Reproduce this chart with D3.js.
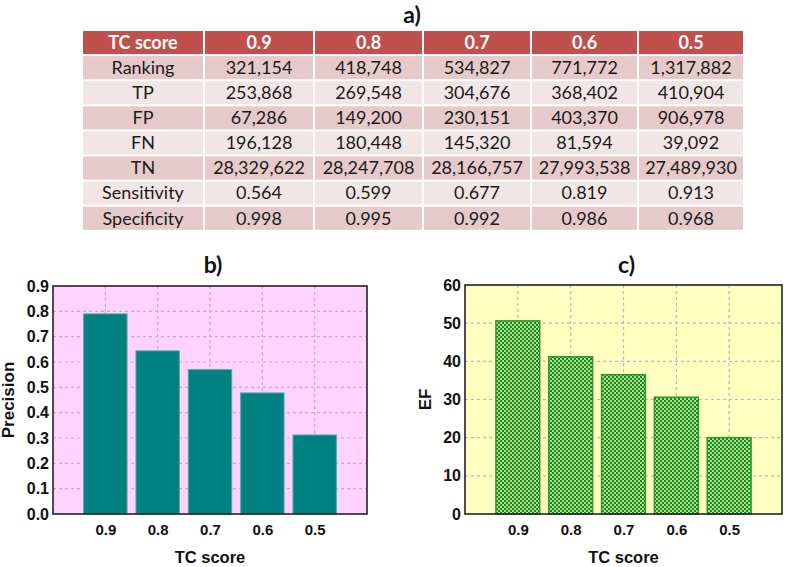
<!DOCTYPE html>
<html><head><meta charset="utf-8">
<script src="https://cdn.jsdelivr.net/npm/d3@7"></script>
<style>body{margin:0;background:#fff}svg{display:block}</style>
</head><body>
<svg id="c" width="787" height="567"></svg>
<script>
const tcScores = ["0.9","0.8","0.7","0.6","0.5"];
const rowLabels = ["Ranking","TP","FP","FN","TN","Sensitivity","Specificity"];
const ranking = ["321,154","418,748","534,827","771,772","1,317,882"];
const tp = ["253,868","269,548","304,676","368,402","410,904"];
const fp = ["67,286","149,200","230,151","403,370","906,978"];
const fn = ["196,128","180,448","145,320","81,594","39,092"];
const tn = ["28,329,622","28,247,708","28,166,757","27,993,538","27,489,930"];
const sensitivity = ["0.564","0.599","0.677","0.819","0.913"];
const specificity = ["0.998","0.995","0.992","0.986","0.968"];
const precision = [0.790, 0.644, 0.570, 0.478, 0.312];
const ef = [50.6, 41.2, 36.5, 30.6, 20.0];
const precisionTicks = [0,0.1,0.2,0.3,0.4,0.5,0.6,0.7,0.8,0.9];
const efTicks = [0,10,20,30,40,50,60];

const svg = d3.select("#c");
const defs = svg.append("defs");
const pat = defs.append("pattern").attr("id","chk").attr("patternUnits","userSpaceOnUse")
  .attr("width",4).attr("height",4);
pat.append("rect").attr("width",4).attr("height",4).attr("fill","#b4de94");
pat.append("rect").attr("width",2).attr("height",2).attr("fill","#168a16");
pat.append("rect").attr("x",2).attr("y",2).attr("width",2).attr("height",2).attr("fill","#168a16");

// ---------- Table ----------
const tableRows = [ranking,tp,fp,fn,tn,sensitivity,specificity];
const colEdges = [83,205,315,424,532,639,745];
const rowTop = 31, rowH = 25.1;
const tf = "Lato, 'Open Sans', sans-serif";
const af = "'Liberation Sans', Arial, sans-serif";
svg.append("text").attr("x",412).attr("y",23).attr("text-anchor","middle")
  .attr("font-family",tf).attr("font-weight","bold").attr("font-size",23).attr("fill","#111").text("a)");
const headers = ["TC score"].concat(tcScores);
headers.forEach((h,i)=>{
  svg.append("rect").attr("x",colEdges[i]).attr("y",rowTop).attr("width",colEdges[i+1]-colEdges[i]-2)
    .attr("height",rowH-2).attr("fill","#c0504d");
  svg.append("text").attr("x",(colEdges[i]+colEdges[i+1]-2)/2).attr("y",rowTop+rowH/2-1)
    .attr("dy","0.35em").attr("text-anchor","middle").attr("font-family",tf).attr("font-weight","bold")
    .attr("font-size",18).attr("fill","#fff").text(h);
});
tableRows.forEach((vals,r)=>{
  const y = rowTop+rowH*(r+1);
  const fill = r%2===0 ? "#e6caca" : "#f2e5e5";
  [rowLabels[r]].concat(vals).forEach((v,i)=>{
    svg.append("rect").attr("x",colEdges[i]).attr("y",y).attr("width",colEdges[i+1]-colEdges[i]-2)
      .attr("height",rowH-2).attr("fill",fill);
    svg.append("text").attr("x",(colEdges[i]+colEdges[i+1]-2)/2).attr("y",y+rowH/2-1)
      .attr("dy","0.35em").attr("text-anchor","middle").attr("font-family",tf)
      .attr("font-size",18).attr("fill","#1a1a1a").text(v);
  });
});

// ---------- Bar charts ----------
function barChart(o){
  const g = svg.append("g");
  const x = d3.scaleLinear().domain([0,6]).range([o.left,o.right]);
  const y = d3.scaleLinear().domain([0,o.max]).range([o.bottom,o.top]);
  g.append("rect").attr("x",o.left).attr("y",o.top).attr("width",o.right-o.left)
    .attr("height",o.bottom-o.top).attr("fill",o.bg);
  g.selectAll(".hg").data(o.ticks.slice(1,-1)).enter().append("line")
    .attr("x1",o.left).attr("x2",o.right).attr("y1",d=>y(d)).attr("y2",d=>y(d))
    .attr("stroke","#b8b8b8").attr("stroke-width",1.2).attr("stroke-dasharray","3,3");
  g.selectAll(".vg").data(tcScores).enter().append("line")
    .attr("x1",(d,i)=>x(i+1)).attr("x2",(d,i)=>x(i+1)).attr("y1",o.top).attr("y2",o.bottom)
    .attr("stroke","#b8b8b8").attr("stroke-width",1.2).attr("stroke-dasharray","3,3");
  const bw = x(0.83)-x(0);
  g.selectAll(".bar").data(o.values).enter().append("rect")
    .attr("x",(d,i)=>x(i+1)-bw/2).attr("width",bw)
    .attr("y",d=>y(d)).attr("height",d=>o.bottom-y(d))
    .attr("fill",o.fill).attr("stroke",o.stroke).attr("stroke-width",o.sw);
  g.append("rect").attr("x",o.left).attr("y",o.top).attr("width",o.right-o.left)
    .attr("height",o.bottom-o.top).attr("fill","none").attr("stroke","#222").attr("stroke-width",1.6);
  const ya = d3.axisLeft(y).tickValues(o.ticks).tickSize(0).tickPadding(4).tickFormat(o.fmt);
  const yg = g.append("g").attr("transform",`translate(${o.left},0)`).call(ya);
  yg.select(".domain").remove();
  yg.attr("font-family",af).attr("font-size",16).attr("font-weight","bold");
  yg.selectAll("text").attr("fill","#111");
  const xa = d3.axisBottom(x).tickValues([1,2,3,4,5]).tickSize(0).tickPadding(10)
    .tickFormat(d=>tcScores[d-1]);
  const xg = g.append("g").attr("transform",`translate(0,${o.bottom})`).call(xa);
  xg.select(".domain").remove();
  xg.attr("font-family",af).attr("font-size",15).attr("font-weight","bold");
  xg.selectAll("text").attr("fill","#111");
  g.append("text").attr("x",(o.left+o.right)/2).attr("y",563).attr("text-anchor","middle")
    .attr("font-family",af).attr("font-weight","bold")
    .attr("font-size",16.5).attr("fill","#111").text("TC score");
  g.append("text").attr("transform",`translate(${o.ylx},${(o.top+o.bottom)/2}) rotate(-90)`)
    .attr("text-anchor","middle")
    .attr("font-family",af).attr("font-weight","bold")
    .attr("font-size",o.ylfs).attr("fill","#111").text(o.ylabel);
  g.append("text").attr("x",(o.left+o.right)/2+3).attr("y",273).attr("text-anchor","middle")
    .attr("font-family",tf).attr("font-weight","bold").attr("font-size",23).attr("fill","#111").text(o.title);
}
barChart({left:53,right:367,top:286,bottom:514,max:0.9,ticks:precisionTicks,values:precision,
  fmt:d3.format(".1f"),bg:"#ffd2ff",fill:"#008080",stroke:"#5aa8a8",sw:1,ylabel:"Precision",ylfs:17,ylx:14,title:"b)"});
barChart({left:465,right:782,top:285,bottom:514,max:60,ticks:efTicks,values:ef,
  fmt:d3.format("d"),bg:"#ffffc0",fill:"url(#chk)",stroke:"#2a9a2a",sw:1.5,ylabel:"EF",ylfs:17,ylx:431,title:"c)"});
</script>
</body></html>
